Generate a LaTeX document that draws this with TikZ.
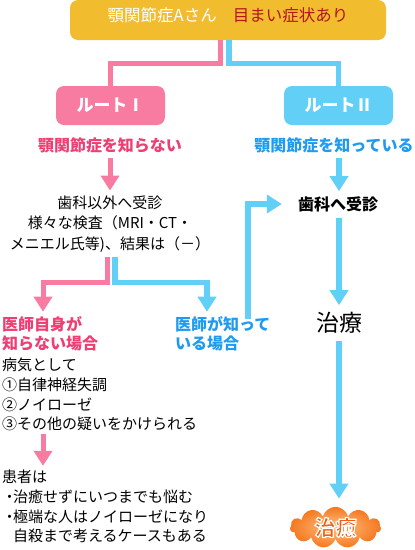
\documentclass[tikz,border=0pt]{standalone}
\usepackage{fontspec}
\newfontfamily\jp{Noto Sans CJK JP}
\usetikzlibrary{arrows.meta,shapes.symbols}
\definecolor{goldc}{HTML}{F2BC2F}
\definecolor{darkredc}{HTML}{B3161C}
\definecolor{pinkc}{HTML}{F87CA2}
\definecolor{pinktxt}{HTML}{EE3E73}
\definecolor{bluec}{HTML}{62CFF7}
\definecolor{bluetxt}{HTML}{1E9BEF}
\definecolor{cloudin}{HTML}{FDC48A}
\definecolor{cloudout}{HTML}{F5781E}
\definecolor{cloudtxt}{HTML}{F06010}
\newcommand\halotext[1]{{\color{cloudtxt}\special{pdf:literal direct 2 Tr 1.2 w 1 1 1 RG}#1\special{pdf:literal direct 0 Tr}}}
\begin{document}
\begin{tikzpicture}[x=1pt,y=-1pt,
  every node/.style={inner sep=0pt},
  txt/.style={font=\jp\fontsize{15}{20.5}\selectfont},
  lst/.style={font=\jp\fontsize{15}{19.7}\selectfont, align=left},
  hd/.style={font=\jp\bfseries\fontsize{16}{18.5}\selectfont},
  routebox/.style={rounded corners=8pt, minimum width=109pt, minimum height=39pt,
    text=white, font=\jp\bfseries\fontsize{17}{20}\selectfont},
  pinkline/.style={draw=pinkc, line width=5pt, line join=miter},
  blueline/.style={draw=bluec, line width=5.5pt, line join=miter},
  pinkarrow/.style={pinkline, -{Triangle[width=18pt,length=15pt]}},
  bluearrow/.style={blueline, -{Triangle[width=18pt,length=15pt]}}
]
\useasboundingbox (0,0) rectangle (415,550);
% top
\node[fill=goldc, rounded corners=8pt, minimum width=316pt, minimum height=40pt] (topbox) at (228,20) {};
\node[font=\jp\fontsize{16.5}{18}\selectfont] (toptext) at (228,15.5)
  {{\color{white}顎関節症Aさん}\hspace{16pt}{\color{darkredc}目まい症状あり}};
% routes
\node[routebox, fill=pinkc] (r1) at (110.5,105.5) {ルートⅠ};
\node[routebox, fill=bluec] (r2) at (338.5,105.5) {ルートⅡ};
\node[hd, text=pinktxt] (t1) at (110,145) {顎関節症を知らない};
\node[hd, text=bluetxt] (t2) at (334,145) {顎関節症を知っている};
% left column
\node[txt, align=center] (b1) at (110,224) {歯科以外へ受診\\様々な検査（MRI・CT・\\メニエル氏等)、結果は（－）};
\node[hd, text=pinktxt, align=left, anchor=west] (d1) at (2,334) {医師自身が\\知らない場合};
\node[hd, text=bluetxt, align=left, anchor=west] (d2) at (175,334) {医師が知って\\いる場合};
\node[lst, anchor=west] (l1) at (2,394.5) {病気として\\①自律神経失調\\②ノイローゼ\\③その他の疑いをかけられる};
\node[lst, anchor=west] (l2) at (2,506.5) {患者は\\・\kern-4pt治癒せずにいつまでも悩む\\・\kern-4pt極端な人はノイローゼになり\\\hspace*{11pt}自殺まで考えるケースもある};
% right column
\node[hd] (shika) at (338,204) {歯科へ受診};
\node[font=\jp\fontsize{23}{25}\selectfont] (chiryo) at (339,323) {治療};
\node[cloud, cloud puffs=11, aspect=2.3, minimum width=91pt, minimum height=39pt,
  inner color=cloudin, outer color=cloudout, font=\jp\bfseries\fontsize{21}{22}\selectfont] (cloud) at (335.5,527.5) {\halotext{治癒}};
% connectors
\draw[pinkline] ([xshift=-8pt]topbox.south) -- ++(0,23.5) -| (r1.north);
\draw[blueline] ([xshift=1pt]topbox.south) -- ++(0,23.5) -| (r2.north);
\draw[pinkarrow, shorten <=5pt, shorten >=5pt] (b1.north |- t1.south) -- (b1.north);
\draw[bluearrow, shorten <=5pt, shorten >=5pt] (chiryo.north |- t2.south) -- (chiryo.north |- shika.north);
\draw[pinkarrow] ([xshift=-3pt,yshift=-4pt]b1.south) -- ++(0,26) -| ([xshift=41pt,yshift=5pt]d1.north west);
\draw[bluearrow] ([xshift=5pt,yshift=-4pt]b1.south) -- ++(0,26) -| ([xshift=32pt,yshift=5pt]d2.north west);
\draw[bluearrow] ([xshift=73pt,yshift=-2pt]d2.north west) |- ([xshift=-16pt]shika.west);
\draw[bluearrow, shorten <=6pt, shorten >=7pt] (chiryo.north |- shika.south) -- (chiryo.north);
\draw[bluearrow, shorten <=7pt, shorten >=8pt] (chiryo.south) -- (chiryo.south |- cloud.north);
\draw[pinkarrow, shorten <=3pt, shorten >=4pt] ([xshift=41pt]l1.south west) -- ([xshift=41pt]l2.north west);
\end{tikzpicture}
\end{document}
